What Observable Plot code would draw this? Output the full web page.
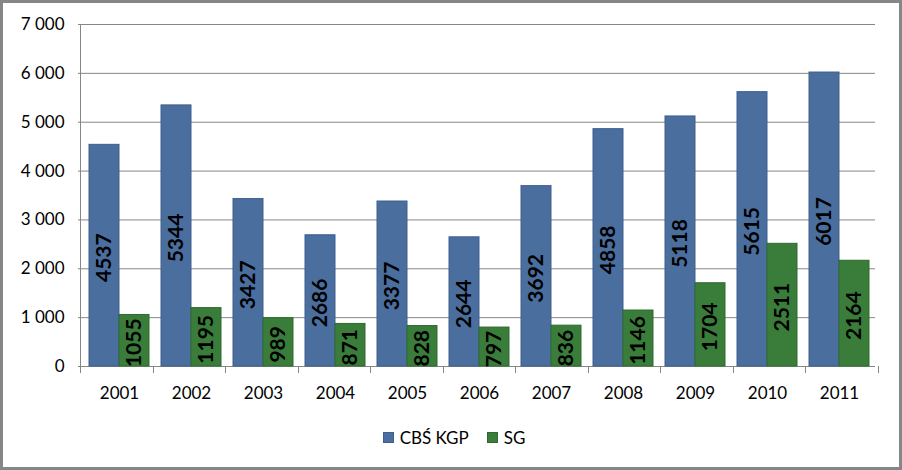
<!DOCTYPE html>
<html>
<head>
<meta charset="utf-8">
<script src="https://cdn.jsdelivr.net/npm/d3@7"></script>
<script src="https://cdn.jsdelivr.net/npm/@observablehq/plot@0.6"></script>
<style>
  html, body { margin: 0; padding: 0; background: white; }
  #wrap {
    width: 902px; height: 470px; box-sizing: border-box;
    border: 3px solid #868686; background: white; position: relative; overflow: hidden;
  }
  #legend {
    height: 54px; display: flex; justify-content: center; align-items: flex-start;
    font-family: Lato, "Liberation Sans", sans-serif; font-size: 17px; color: #000;
    padding-top: 14px; box-sizing: border-box; margin-left: 6px;
  }
  .item { display: flex; align-items: center; margin: 0 9px; }
  .sw { width: 11px; height: 11px; margin-right: 6px; box-sizing: border-box; }
  svg { display: block; }
</style>
</head>
<body>
<div id="wrap">
  <div id="chart"></div>
  <div id="legend"></div>
</div>
<script>
const years = ["2001","2002","2003","2004","2005","2006","2007","2008","2009","2010","2011"];
const cbsValues = [4537, 5344, 3427, 2686, 3377, 2644, 3692, 4858, 5118, 5615, 6017];
const sgValues = [1055, 1195, 989, 871, 828, 797, 836, 1146, 1704, 2511, 2164];
const seriesNames = ["CBŚ KGP", "SG"];
const fillColors = ["#4A6E9E", "#3A7D3A"];
const strokeColors = ["#3C5F8E", "#2E6A2E"];
const yTicks = [0, 1000, 2000, 3000, 4000, 5000, 6000, 7000];

const data = years.flatMap((yr, i) => [
  {year: yr, series: seriesNames[0], value: cbsValues[i]},
  {year: yr, series: seriesNames[1], value: sgValues[i]}
]);

const fmt = d => d3.format(",")(d).replace(/,/g, " ");
const gray = "#868686";

const plot = Plot.plot({
  width: 896,
  height: 410,
  marginLeft: 77,
  marginRight: 21,
  marginTop: 21,
  marginBottom: 47,
  style: {fontFamily: "Lato, 'Liberation Sans', sans-serif", fontSize: "17px", color: "black", background: "white", overflow: "visible"},
  fx: {domain: years, padding: 0, label: null, axis: null},
  x: {domain: seriesNames, paddingInner: 0, paddingOuter: 0.17, axis: null},
  y: {domain: [0, 7000], label: null, axis: null},
  color: {domain: seriesNames, range: fillColors},
  marks: [
    Plot.gridY(yTicks, {stroke: gray, strokeOpacity: 1}),
    Plot.ruleY([0], {stroke: gray}),
    Plot.barY(data, {
      fx: "year", x: "series", y: "value", fill: "series",
      stroke: d => strokeColors[seriesNames.indexOf(d.series)], strokeWidth: 1,
      insetLeft: 0, insetRight: 0
    }),
    Plot.text(data, {
      fx: "year", x: "series", y: d => d.value / 2, text: d => String(d.value),
      rotate: -90, fontWeight: "bold", fontSize: 21, fill: "black", dy: 2
    }),
    Plot.axisY(yTicks, {tickSize: 5, tickPadding: 14, tickFormat: fmt, stroke: gray, fill: "black", label: null}),
    Plot.axisFx({anchor: "bottom", tickSize: 0, tickPadding: 20, label: null, fill: "black"})
  ]
});

document.getElementById("chart").appendChild(plot);

// axis lines and category boundary ticks from the fx / y scales
const fxs = plot.scale("fx");
const ys = plot.scale("y");
const band = d3.scaleBand().domain(fxs.domain).range(fxs.range).padding(0);
const yScale = d3.scaleLinear().domain(ys.domain).range(ys.range);
const svg = d3.select(plot);
const g = svg.append("g").attr("stroke", gray).attr("stroke-width", 1);
const x0 = band.range()[0], x1 = band.range()[1];
const yBottom = yScale(0), yTop = yScale(7000);
g.append("line").attr("x1", x0 + 0.5).attr("x2", x0 + 0.5).attr("y1", yTop).attr("y2", yBottom);
const bounds = band.domain().map(d => band(d)).concat([x1]);
g.selectAll("line.t").data(bounds).join("line").attr("class", "t")
  .attr("x1", d => Math.round(d) + 0.5).attr("x2", d => Math.round(d) + 0.5)
  .attr("y1", yBottom).attr("y2", yBottom + 7);

// legend
const legend = d3.select("#legend");
seriesNames.forEach((s, i) => {
  const it = legend.append("div").attr("class", "item");
  it.append("div").attr("class", "sw").style("background", fillColors[i]).style("border", "1px solid " + strokeColors[i]);
  it.append("span").text(s);
});
</script>
</body>
</html>
